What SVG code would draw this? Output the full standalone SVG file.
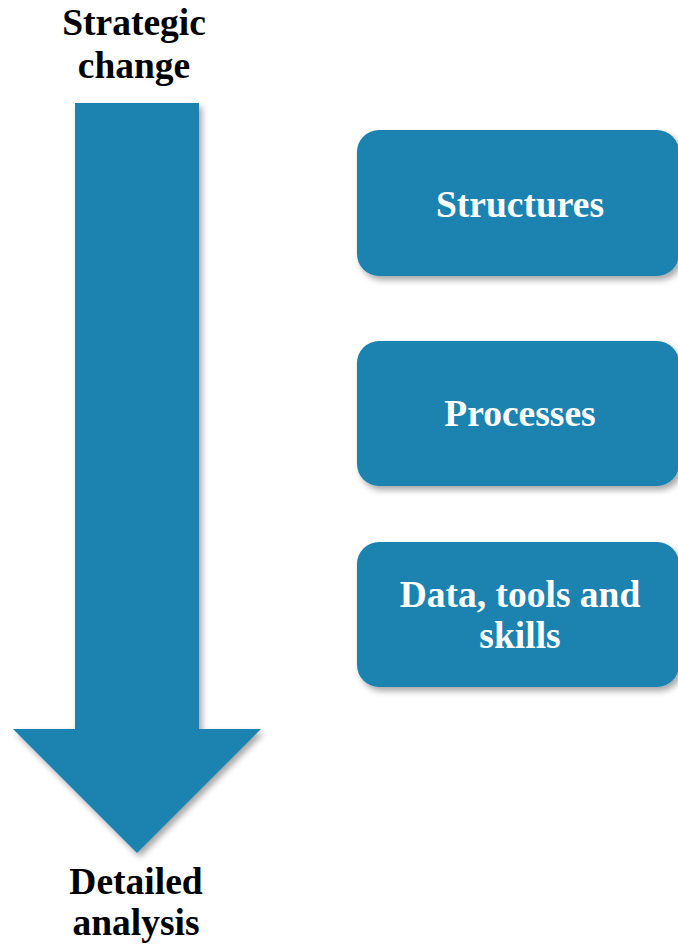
<svg xmlns="http://www.w3.org/2000/svg" width="678" height="946" viewBox="0 0 678 946">
<defs>
<filter id="sh" x="-10%" y="-10%" width="130%" height="130%">
<feDropShadow dx="3" dy="4" stdDeviation="3" flood-color="#000" flood-opacity="0.35"/>
</filter>
<style>
.lbl{font-family:"Liberation Serif","Times New Roman",serif;font-weight:bold;font-size:37.5px;fill:#000;text-anchor:middle}
.btxt{font-family:"Liberation Serif","Times New Roman",serif;font-weight:bold;font-size:37.5px;fill:#fff;text-anchor:middle}
.box{fill:#1a82b0;filter:url(#sh)}
</style>
</defs>
<rect width="678" height="946" fill="#fff"/>
<g id="arrow">
<polygon points="75,103 199,103 199,729 261,729 137,853 13,729 75,729" fill="#1a82b0" filter="url(#sh)"/>
</g>
<g id="label-top">
<text class="lbl" x="134" y="35">Strategic</text>
<text class="lbl" x="134" y="78">change</text>
</g>
<g id="label-bottom">
<text class="lbl" x="136" y="894">Detailed</text>
<text class="lbl" x="136" y="935">analysis</text>
</g>
<g id="structures">
<rect class="box" x="357" y="130" width="322" height="146" rx="22"/>
<text class="btxt" x="520" y="217">Structures</text>
</g>
<g id="processes">
<rect class="box" x="357" y="341" width="322" height="145" rx="22"/>
<text class="btxt" x="520" y="426">Processes</text>
</g>
<g id="data">
<rect class="box" x="357" y="542" width="322" height="145" rx="22"/>
<text class="btxt" x="520" y="607">Data, tools and</text>
<text class="btxt" x="520" y="648">skills</text>
</g>
<g id="connectors"/>
</svg>
